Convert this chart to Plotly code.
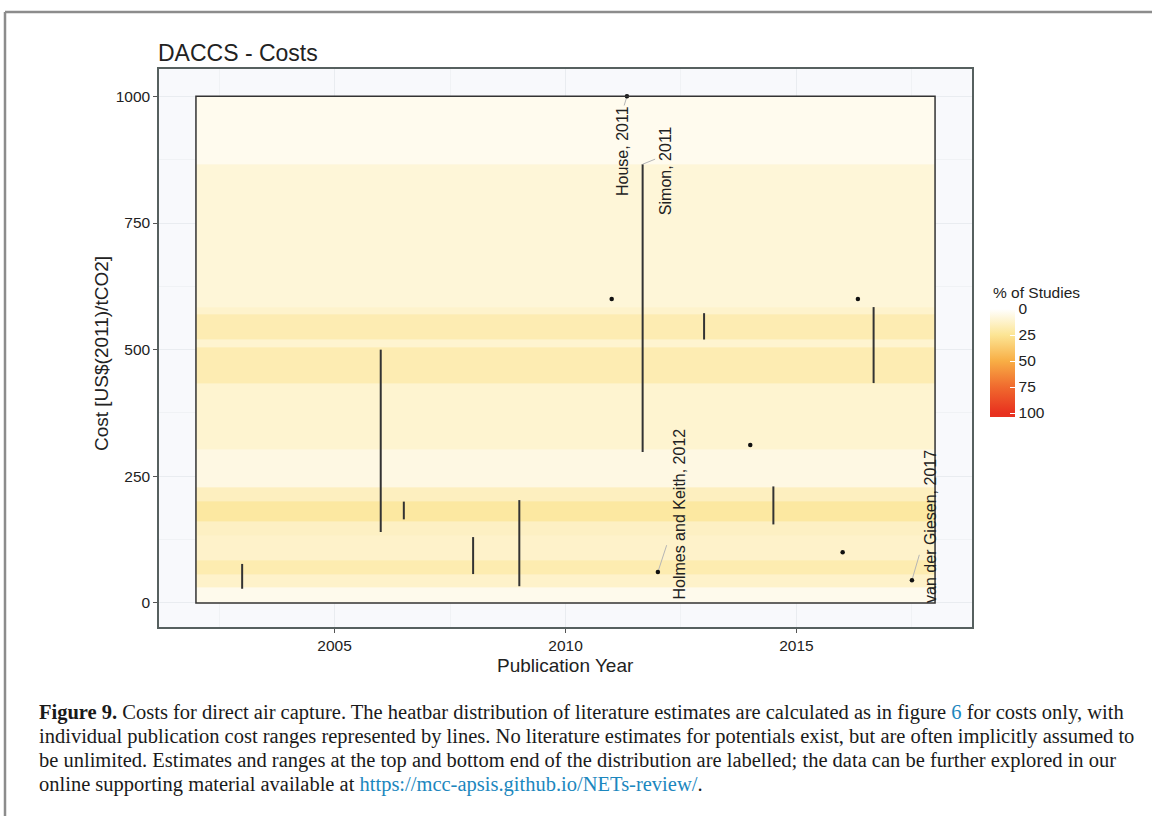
import plotly.graph_objects as go

# ---------------- data ----------------
band_edges = [0, 30, 56, 85, 134, 162, 201, 229, 303, 433, 504, 521, 570, 584, 866, 1000]
band_pct = [4.5, 12.5, 18.5, 12.5, 14, 22, 15, 6.5, 11, 18, 11, 18, 12, 9, 4]
heatbar_years = [2002, 2018]

range_year = [2003.0, 2006.0, 2006.5, 2008.0, 2009.0, 2011.67, 2013.0, 2014.5, 2016.67]
range_low = [28, 140, 165, 57, 33, 298, 520, 155, 434]
range_high = [77, 500, 200, 130, 203, 866, 572, 230, 584]

point_year = [2011.0, 2011.33, 2012.0, 2014.0, 2016.0, 2016.33, 2017.5]
point_cost = [600, 1000, 61, 312, 100, 600, 45]

label_text = ["House, 2011", "Simon, 2011", "Holmes and Keith, 2012", "van der Giesen, 2017"]
label_year = [2011.33, 2011.67, 2012.0, 2017.5]
label_cost = [1000, 866, 61, 45]

x_ticks = [2005, 2010, 2015]
y_ticks = [0, 250, 500, 750, 1000]
legend_ticks = [0, 25, 50, 75, 100]
legend_colors = ["#FFFFFF", "#FCE594", "#F8AE45", "#F06A2E", "#E8311F"]

# ---------------- layout helpers ----------------
W, H = 1152, 816
L, R, T, B = 159, 972, 69, 627   # plot panel in pixels


def px(xp):
    return (xp - L) / (R - L)


def py(yp):
    return (B - yp) / (B - T)


# label placement (layout, not data): text centre x, text bottom y, leader end
label_pos_x = [2011.23, 2012.17, 2012.46, 2017.9]
label_pos_y = [800, 762, 2, -4]
leader_end = [(2011.27, 982), (2011.94, 876), (2012.19, 114), (2017.66, 95)]

SANS = "Liberation Sans, Arial, sans-serif"
SERIF = "Liberation Serif, Times New Roman, serif"
TXT = "#222222"

fig = go.Figure()

# heatbar (legend runs 0 at top -> 100 at bottom, so colour by negative %)
ZMIN, ZMAX = -103.8, 5.8


def norm(v):
    return (v - ZMIN) / (ZMAX - ZMIN)


stops = sorted(zip([norm(-v) for v in legend_ticks], legend_colors))
colorscale = [[0.0, stops[0][1]]] + [[s, c] for s, c in stops] + [[1.0, stops[-1][1]]]

fig.add_trace(go.Heatmap(
    x=heatbar_years, y=band_edges, z=[[-p] for p in band_pct],
    colorscale=colorscale, zmin=ZMIN, zmax=ZMAX, hoverinfo="skip",
    colorbar=dict(
        thickness=25, thicknessmode="pixels", len=114, lenmode="pixels",
        x=px(990), xanchor="left", y=py(303), yanchor="top",
        tickvals=[-v for v in legend_ticks], ticktext=[str(v) for v in legend_ticks],
        ticks="inside", ticklen=5, tickcolor="white", outlinewidth=0,
        tickfont=dict(family=SANS, size=15.5, color=TXT), xpad=0, ypad=0,
    ),
))

fig.add_annotation(x=px(991), y=py(292), xref="paper", yref="paper", text="% of Studies",
                   showarrow=False, xanchor="left", yanchor="middle",
                   font=dict(family=SANS, size=15.5, color=TXT))

# range lines
lx, ly = [], []
for yr, lo, hi in zip(range_year, range_low, range_high):
    lx += [yr, yr, None]
    ly += [lo, hi, None]
fig.add_trace(go.Scatter(x=lx, y=ly, mode="lines", line=dict(color="#333333", width=2),
                         showlegend=False, hoverinfo="skip"))

# leader lines
gx, gy = [], []
for yr, c, (ex, ey) in zip(label_year, label_cost, leader_end):
    gx += [yr, ex, None]
    gy += [c, ey, None]
fig.add_trace(go.Scatter(x=gx, y=gy, mode="lines", line=dict(color="#B5B5B5", width=1),
                         showlegend=False, hoverinfo="skip"))

# single-value points
fig.add_trace(go.Scatter(x=point_year, y=point_cost, mode="markers",
                         marker=dict(color="#111111", size=4.5), showlegend=False,
                         hoverinfo="skip"))

# labels
for t, xx, yy in zip(label_text, label_pos_x, label_pos_y):
    fig.add_annotation(x=xx, y=yy, xref="x", yref="y", text=t, textangle=-90,
                       showarrow=False, xanchor="center", yanchor="bottom",
                       font=dict(family=SANS, size=16, color=TXT))

# heatbar frame
fig.add_shape(type="rect", x0=heatbar_years[0], x1=heatbar_years[1],
              y0=band_edges[0], y1=band_edges[-1], xref="x", yref="y",
              line=dict(color="#333333", width=1.5), layer="above")

# page frame (gray border of the figure box)
fig.add_shape(type="line", xref="paper", yref="paper", x0=px(5), x1=px(5), y0=py(12), y1=py(830),
              line=dict(color="#8C8C8C", width=2.5))
fig.add_shape(type="line", xref="paper", yref="paper", x0=px(5), x1=px(1160), y0=py(12), y1=py(12),
              line=dict(color="#8C8C8C", width=2.5))

# axis titles
fig.add_annotation(x=px(565), y=py(665), xref="paper", yref="paper", text="Publication Year",
                   showarrow=False, xanchor="center", yanchor="middle",
                   font=dict(family=SANS, size=19, color=TXT))
fig.add_annotation(x=px(101), y=py(354), xref="paper", yref="paper", text="Cost [US$(2011)/tCO2]",
                   textangle=-90, showarrow=False, xanchor="center", yanchor="middle",
                   font=dict(family=SANS, size=19, color=TXT))

# caption
BLUE = "#1C87BE"
cap_lines = [
    "<b>Figure 9.</b> Costs for direct air capture. The heatbar distribution of literature estimates are calculated as in figure "
    f"<span style='color:{BLUE}'>6</span> for costs only, with",
    "individual publication cost ranges represented by lines. No literature estimates for potentials exist, but are often implicitly assumed to",
    "be unlimited. Estimates and ranges at the top and bottom end of the distribution are labelled; the data can be further explored in our",
    f"online supporting material available at <span style='color:{BLUE}'>https://mcc-apsis.github.io/NETs-review/</span>.",
]
cap_y = [712, 736, 760, 784]
for t, yy in zip(cap_lines, cap_y):
    fig.add_annotation(x=px(37), y=py(yy), xref="paper", yref="paper", text=t,
                       showarrow=False, xanchor="left", yanchor="middle",
                       font=dict(family=SERIF, size=20.5, color="#1A1A1A"))

axis_common = dict(
    showline=True, mirror=True, linecolor="#56605F", linewidth=1.5,
    ticks="outside", ticklen=4, tickcolor="#555555", tickwidth=1,
    gridcolor="#E9ECF0", gridwidth=1, zeroline=False,
    tickfont=dict(family=SANS, size=15.5, color=TXT),
)

fig.update_xaxes(range=[2001.2, 2018.8], tickvals=x_ticks,
                 minor=dict(dtick=2.5, tick0=2002.5, showgrid=True, gridcolor="#F0F2F5", ticks=""),
                 **axis_common)
fig.update_yaxes(range=[-47.5, 1054], tickvals=y_ticks,
                 minor=dict(dtick=125, tick0=125, showgrid=True, gridcolor="#F0F2F5", ticks=""),
                 **axis_common)

fig.update_layout(
    width=W, height=H,
    margin=dict(l=L, r=W - R, t=T, b=H - B, autoexpand=False),
    paper_bgcolor="white", plot_bgcolor="#F8F9FC",
    title=dict(text="DACCS - Costs", x=158 / W, xref="container", xanchor="left",
               y=1 - 53 / H, yref="container", yanchor="middle",
               font=dict(family=SANS, size=23, color=TXT)),
    showlegend=False,
)

fig.write_html("out.html", config={"displayModeBar": False},
               post_script="document.body.style.margin='0px';")
